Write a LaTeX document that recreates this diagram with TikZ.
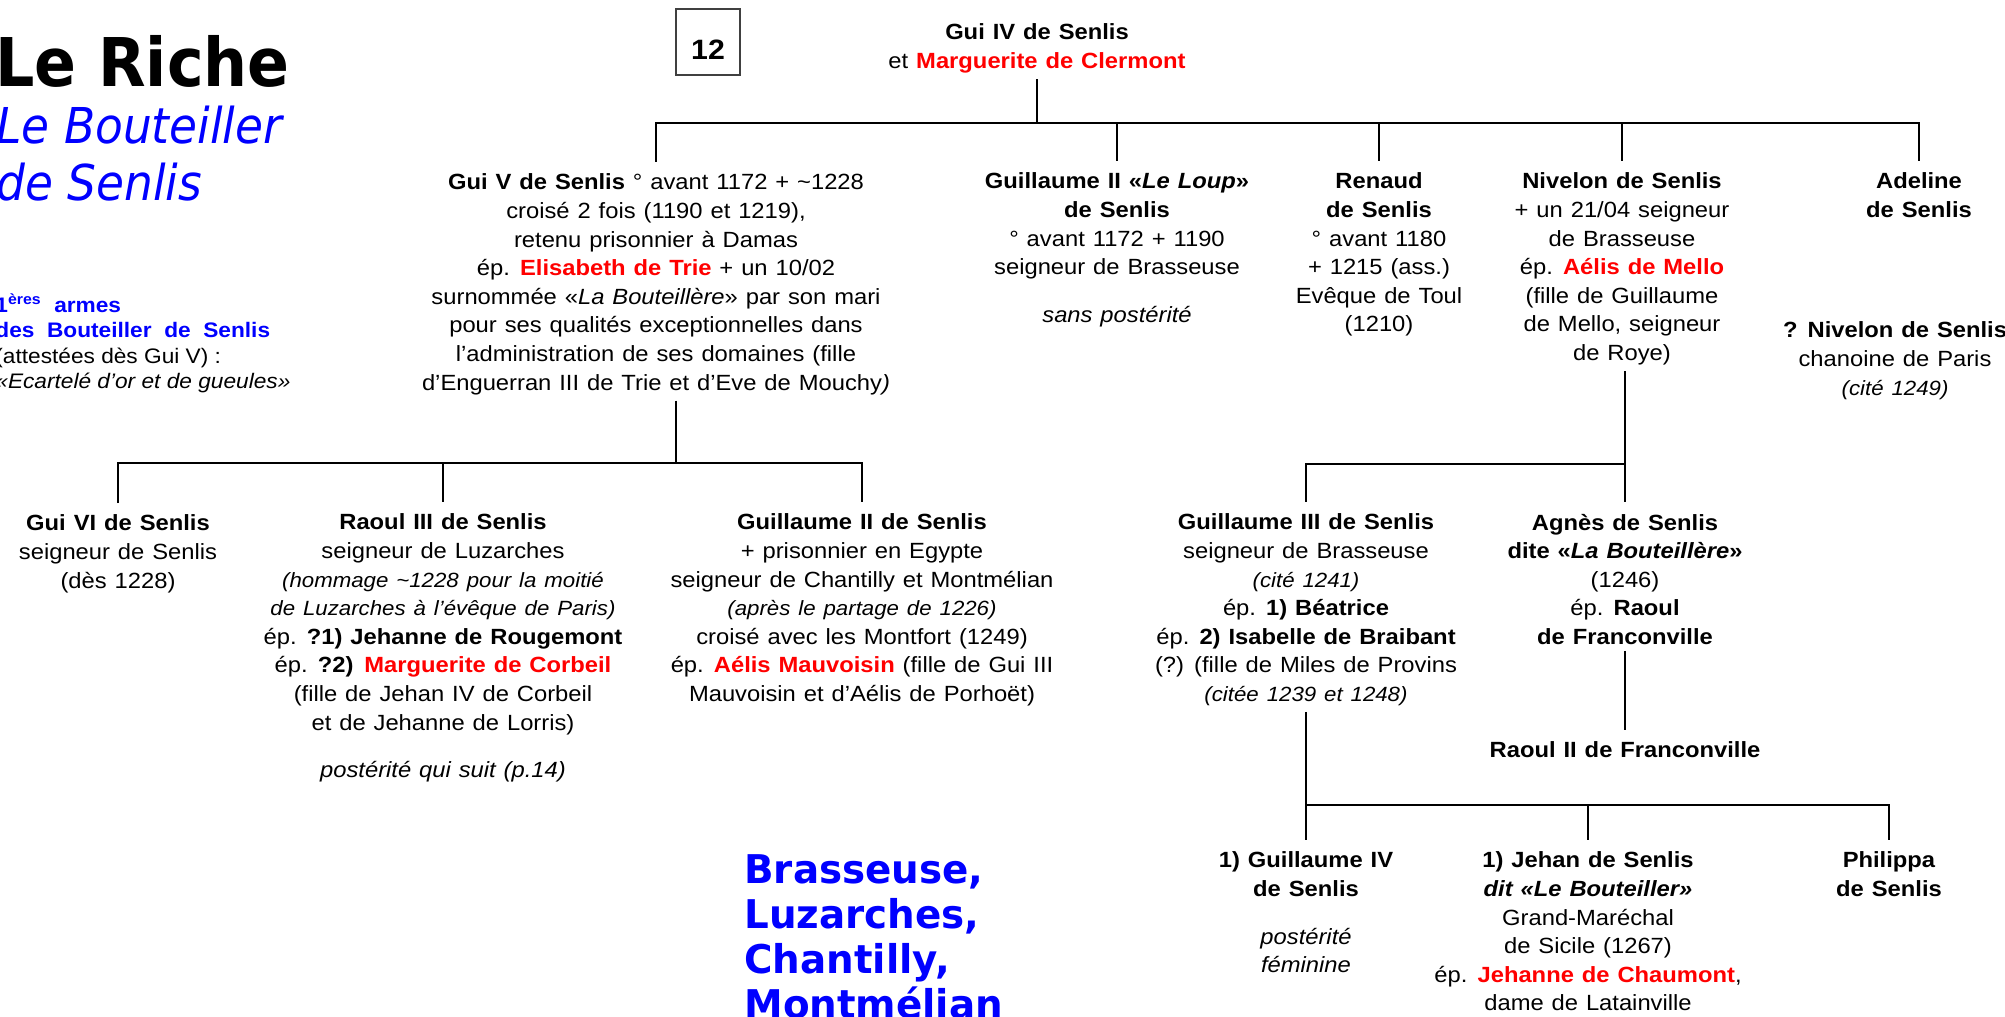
\documentclass[tikz,border=0pt]{standalone}
\usepackage{fontspec}
\setmainfont{Liberation Sans}[FakeStretch=1.08]
\newfontfamily\headfont[FakeStretch=0.92]{DejaVu Sans}
\newfontfamily\placefont[FakeStretch=0.98]{DejaVu Sans}
\usepackage{xcolor}
\usetikzlibrary{positioning}
\definecolor{spouse}{RGB}{255,0,0}
\definecolor{house}{RGB}{0,0,255}
\newcommand{\treefont}{\fontsize{11}{14.3}\selectfont\spaceskip=0.36em plus 0.1em\relax}
\newcommand{\armsfont}{\fontsize{10.5}{12.75}\selectfont}
\newcommand{\wife}[1]{\textcolor{spouse}{\textbf{#1}}}
\newcommand{\smallnote}[1]{{\fontsize{10.3}{14.3}\selectfont\itshape #1}}
\tikzset{%
person/.style={align=center,anchor=north,inner sep=0pt,outer sep=3pt,font=\treefont},
tie/.style={line width=1.3pt},
drop/.style={tie,shorten >=3pt},
pagebox/.style={draw=black!75,line width=0.6pt,minimum width=32pt,minimum height=33pt,inner sep=0pt,
  font=\fontsize{14}{14}\selectfont\bfseries,text height=18pt,text depth=0pt}
}

\begin{document}
\begin{tikzpicture}[x=0.5pt,y=-0.5pt]
  \useasboundingbox (0,0) rectangle (2005,1016);

  % heading on the left
  \node[anchor=base west,inner sep=0pt,font=\headfont\bfseries\fontsize{33.6}{36}\selectfont] (title) at (-5,87) {Le Riche};
  \node[anchor=north west,inner sep=0pt,align=left,text=house,font=\headfont\itshape\fontsize{24.7}{28.5}\selectfont] (subtitle) at (-4,106) {Le Bouteiller\\de Senlis};
  \node[anchor=north west,inner sep=0pt,align=left,font=\armsfont] (arms) at (-5,293)
    {\textcolor{house}{\textbf{1\textsuperscript{ères}\ \ armes}}\\
     {\spaceskip=0.6em\relax\textcolor{house}{\textbf{des Bouteiller de Senlis}}}\\
     (attestées dès Gui V) :\\
     \textit{«Ecartelé d’or et de gueules»}};
  \node[anchor=north west,inner sep=0pt,align=left,text=house,font=\placefont\bfseries\fontsize{19.8}{22.5}\selectfont] (places) at (744,854)
    {Brasseuse,\\Luzarches,\\Chantilly,\\Montmélian};
  \node[pagebox] (page) at (708,42) {12};

  % generation 1
  \node[person] (guiIV) at (1037,18) {\textbf{Gui IV de Senlis}\\ et \wife{Marguerite de Clermont}};

  % generation 2
  \node[person] (guiV) at (656,168)
    {\textbf{Gui V de Senlis} ° avant 1172 + \textasciitilde1228\\
     croisé 2 fois (1190 et 1219),\\
     retenu prisonnier à Damas\\
     ép. \wife{Elisabeth de Trie} + un 10/02\\
     surnommée «\textit{La Bouteillère}» par son mari\\
     pour ses qualités exceptionnelles dans\\
     l’administration de ses domaines (fille\\
     d’Enguerran III de Trie et d’Eve de Mouchy\textit{)}};
  \node[person] (guillII) at (1117,167)
    {\textbf{Guillaume II «\textit{Le Loup}»}\\ \textbf{de Senlis}\\
     ° avant 1172 + 1190\\ seigneur de Brasseuse\\[9.6pt] \textit{sans postérité}};
  \node[person] (renaud) at (1379,167)
    {\textbf{Renaud}\\ \textbf{de Senlis}\\ ° avant 1180\\ + 1215 (ass.)\\ Evêque de Toul\\ (1210)};
  \node[person] (nivelon) at (1622,167)
    {\textbf{Nivelon de Senlis}\\ + un 21/04 seigneur\\ de Brasseuse\\ ép. \wife{Aélis de Mello}\\
     (fille de Guillaume\\ de Mello, seigneur\\ de Roye)};
  \node[person] (adeline) at (1919,167) {\textbf{Adeline}\\ \textbf{de Senlis}};
  \node[person] (nivelonQ) at (1895,316)
    {\textbf{? Nivelon de Senlis}\\ chanoine de Paris\\ \smallnote{(cité 1249)}};

  % generation 3
  \node[person] (guiVI) at (118,509) {\textbf{Gui VI de Senlis}\\ seigneur de Senlis\\ (dès 1228)};
  \node[person] (raoulIII) at (443,508)
    {\textbf{Raoul III de Senlis}\\ seigneur de Luzarches\\
     \smallnote{(hommage \textasciitilde1228 pour la moitié}\\
     \smallnote{de Luzarches à l’évêque de Paris)}\\
     ép. \textbf{?1) Jehanne de Rougemont}\\
     ép. \textbf{?2)}\enspace\wife{Marguerite de Corbeil}\\
     (fille de Jehan IV de Corbeil\\ et de Jehanne de Lorris)\\[9.6pt]
     \textit{postérité qui suit (p.14)}};
  \node[person] (guillIIb) at (862,508)
    {\textbf{Guillaume II de Senlis}\\ + prisonnier en Egypte\\
     seigneur de Chantilly et Montmélian\\ \smallnote{(après le partage de 1226)}\\
     croisé avec les Montfort (1249)\\ ép. \wife{Aélis Mauvoisin} (fille de Gui III\\
     Mauvoisin et d’Aélis de Porhoët)};
  \node[person] (guillIII) at (1306,508)
    {\textbf{Guillaume III de Senlis}\\ seigneur de Brasseuse\\ \smallnote{(cité 1241)}\\
     ép. \textbf{1) Béatrice}\\ ép. \textbf{2) Isabelle de Braibant}\\
     (?) (fille de Miles de Provins\\ \smallnote{(citée 1239 et 1248)}};
  \node[person] (agnes) at (1625,508)
    {\textbf{Agnès de Senlis}\\ \textbf{dite «\textit{La Bouteillère}»}\\ (1246)\\
     ép. \textbf{Raoul}\\ \textbf{de Franconville}};
  \node[person,below=42.5pt of agnes] (raoulII) {\textbf{Raoul II de Franconville}};

  % generation 4
  \node[person] (guillIV) at (1306,846)
    {\textbf{1) Guillaume IV}\\ \textbf{de Senlis}\\[9.6pt] \textit{postérité}\\ \textit{féminine}};
  \node[person] (jehan) at (1588,846)
    {\textbf{1) Jehan de Senlis}\\ \textbf{\textit{dit «Le Bouteiller»}}\\ Grand-Maréchal\\
     de Sicile (1267)\\ ép. \wife{Jehanne de Chaumont},\\ dame de Latainville};
  \node[person] (philippa) at (1889,846) {\textbf{Philippa}\\ \textbf{de Senlis}};

  % family lines
  \coordinate (gen1) at (0,123);
  \coordinate (gen2) at (676,463);
  \coordinate (gen3) at (0,464);
  \coordinate (gen4) at (0,805);

  \draw[tie] (guiIV) -- (guiIV |- gen1);
  \draw[tie,shorten <=3pt,shorten >=3pt] (guiV) -- (guiV |- gen1) -- (adeline |- gen1) -- (adeline);
  \foreach \child in {guillII,renaud,nivelon}
    \draw[drop] (\child |- gen1) -- (\child);

  \draw[tie] (guiV.south -| gen2) -- (gen2);
  \draw[tie,shorten <=3pt,shorten >=3pt] (guiVI) -- (guiVI |- gen2) -- (guillIIb |- gen2) -- (guillIIb);
  \draw[drop] (raoulIII |- gen2) -- (raoulIII);

  \draw[drop] (nivelon.south -| agnes) -- (agnes);
  \draw[tie,shorten >=3pt] (agnes |- gen3) -- (guillIII |- gen3) -- (guillIII);
  \draw[drop,line width=0.8pt] (agnes) -- (raoulII);

  \draw[drop] (guillIII) -- (guillIV);
  \draw[tie,shorten >=3pt] (guillIV |- gen4) -- (philippa |- gen4) -- (philippa);
  \draw[drop] (jehan |- gen4) -- (jehan);
\end{tikzpicture}
\end{document}
